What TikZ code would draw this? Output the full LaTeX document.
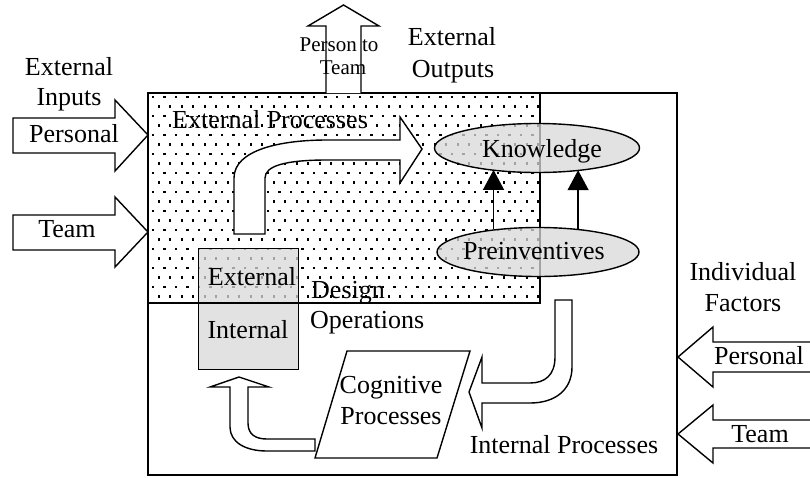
\documentclass[tikz,border=0pt]{standalone}
\usepackage{fontspec}
\setmainfont{Liberation Serif}
\usetikzlibrary{shapes.geometric,arrows.meta}
\tikzset{
  lw/.style={line width=1.4pt},
  blockarrow/.style={draw, fill=white, line width=1.4pt, line join=miter},
  lbl/.style={font=\fontsize{26}{30}\selectfont, inner sep=0pt, anchor=base},
  lblw/.style={lbl, anchor=base west},
  small/.style={font=\fontsize{21}{24}\selectfont, inner sep=0pt, anchor=base},
  grayell/.style={ellipse, draw, line width=1.4pt, fill=gray!30, fill opacity=0.75, inner sep=0pt},
  graybox/.style={rectangle, draw, line width=1.4pt, fill=gray!30, fill opacity=0.75, inner sep=0pt, anchor=north west},
  thinarrow/.style={line width=1.4pt, -{Triangle[length=20pt,width=21pt]}, shorten >=-1pt}
}
\begin{document}
\begin{tikzpicture}[x=1pt,y=-1pt]
\useasboundingbox (0,0) rectangle (810,477);
\fill[white] (0,0) rectangle (810,477);
% outer box
\draw[lw, fill=white] (148,93) rectangle (677,475);
% dotted region
\begin{scope}
  \clip (148,93) rectangle (540,303);
  \foreach \yy in {97,116,...,305} {
    \foreach \xx in {153,164.5,...,545} { \fill (\xx-1.1,\yy-1.1) rectangle ++(2.2,2.2); }
  }
  \foreach \yy in {106.5,125.5,...,305} {
    \foreach \xx in {158.75,170.25,...,545} { \fill (\xx-1.1,\yy-1.1) rectangle ++(2.2,2.2); }
  }
\end{scope}
% design operations box
\node[graybox, minimum width=100pt, minimum height=121pt] (ops) at (198,248) {};
% region border
\draw[lw] (148,303) -- (540,303) -- (540,93);
% external curved arrow
\draw[blockarrow] (234,234) -- (234,178) .. controls (234,150) and (280,140) .. (327,140)
  -- (400,140) -- (400,117) -- (422,149) -- (400,183) -- (400,160) -- (327,160)
  .. controls (285,160) and (265,166) .. (265,178) -- (265,234) -- cycle;
% parallelogram
\draw[lw, fill=white] (347,351) -- (470,351) -- (437,458) -- (315,458) -- cycle;
% bottom curved arrow
\draw[blockarrow] (315,439) -- (267,439) .. controls (255,439) and (248,434) .. (248,423)
  -- (248,387) -- (269,387) -- (239,377) -- (210,387) -- (230,387) -- (230,427)
  .. controls (230,442) and (245,451) .. (267,451) -- (315,451) -- cycle;
% right curved arrow
\draw[blockarrow] (555,300) -- (572,300) -- (572,367) .. controls (572,390) and (555,403) .. (530,403)
  -- (482,403) -- (482,428) -- (469,392) -- (482,357) -- (482,383) -- (530,383)
  .. controls (545,383) and (555,375) .. (555,357) -- cycle;
% ellipses
\node[grayell, minimum width=205pt, minimum height=49pt] (know) at (537,148) {};
\node[grayell, minimum width=202pt, minimum height=49pt] (pre) at (538,252) {};
\draw[thinarrow] (pre.153) -- (pre.153 |- know.208);
\draw[thinarrow] (pre.30) -- (pre.30 |- know.330);
% input arrows
\draw[blockarrow] (13,118) -- (115,118) -- (115,100) -- (148,135) -- (115,171) -- (115,153) -- (13,153) -- cycle;
\draw[blockarrow] (13,215) -- (115,215) -- (115,197) -- (148,232) -- (115,267) -- (115,250) -- (13,250) -- cycle;
% individual factor arrows
\draw[blockarrow] (812,342) -- (713,342) -- (713,327) -- (678,357) -- (713,387) -- (713,372) -- (812,372);
\draw[blockarrow] (812,420) -- (713,420) -- (713,405) -- (678,434) -- (713,463) -- (713,448) -- (812,448);
% output arrow
\draw[blockarrow] (326,93) -- (326,26) -- (308,26) -- (343.5,5) -- (379,26) -- (361,26) -- (361,93);
% labels
\node[lbl] (t1) at (69,75) {External};
\node[lbl] (t2) at (69,105) {Inputs};
\node[lbl] (t3) at (74,142) {Personal};
\node[lbl] (t4) at (67,237) {Team};
\node[lbl] (t5) at (452,45) {External};
\node[lbl] (t6) at (453,77) {Outputs};
\node[small] (t7) at (339,51) {Person to};
\node[small] (t8) at (343,74) {Team};
\node[lblw] (t9) at (172,128) {External Processes};
\node[lbl] (t10) at (542,157) {Knowledge};
\node[lbl] (t11) at (534,259) {Preinventives};
\node[lbl] (t12) at (252,285) {External};
\node[lbl] (t13) at (248,338) {Internal};
\node[lblw] (t14) at (311,298) {Design};
\node[lblw] (t15) at (310,328) {Operations};
\node[lbl] (t16) at (391,393) {Cognitive};
\node[lbl] (t17) at (391,424) {Processes};
\node[lbl] (t18) at (564,453) {Internal Processes};
\node[lbl] (t19) at (743,280) {Individual};
\node[lbl] (t20) at (743,311) {Factors};
\node[lbl] (t21) at (759,364) {Personal};
\node[lbl] (t22) at (760,442) {Team};
\end{tikzpicture}
\end{document}
